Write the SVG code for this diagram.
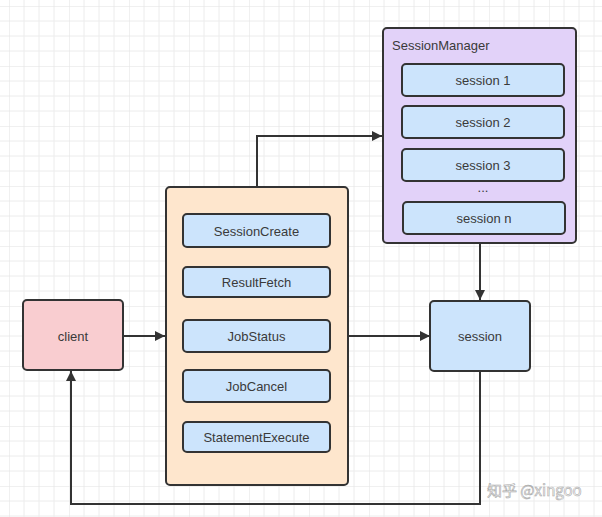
<svg xmlns="http://www.w3.org/2000/svg" width="602" height="517" viewBox="0 0 602 517">
  <defs>
    <pattern id="grid" x="9" y="6" width="60" height="60" patternUnits="userSpaceOnUse">
      <path d="M15 0V60M30 0V60M45 0V60M0 15H60M0 30H60M0 45H60" stroke="#ececec" stroke-width="1" fill="none"/>
      <path d="M0 0V60M0 0H60" stroke="#e2e2e2" stroke-width="1" fill="none"/>
    </pattern>
    <marker id="arrow" viewBox="0 0 10 10" refX="10" refY="5" markerWidth="6" markerHeight="5" markerUnits="strokeWidth" orient="auto">
      <path d="M0 0L10 5L0 10Z" fill="#333333"/>
    </marker>
    <style>
      .box { stroke: #333333; stroke-width: 2; }
      .blue { fill: #cce4fc; }
      .orange { fill: #fee6cd; }
      .pink { fill: #f9cdd0; }
      .purple { fill: #e2d2f9; }
      .lbl { font-family: "Liberation Sans", Arial, sans-serif; font-size: 13px; fill: #3a3a3a; text-anchor: middle; dominant-baseline: central; }
      .conn { fill: none; stroke: #333333; stroke-width: 2; marker-end: url(#arrow); }
    </style>
  </defs>
  <rect width="602" height="517" fill="#ffffff"/>
  <rect width="602" height="517" fill="url(#grid)"/>

  <g id="connectors">
    <path class="conn" d="M123 336H165"/>
    <path class="conn" d="M257 186V136H382"/>
    <path class="conn" d="M480 243V300"/>
    <path class="conn" d="M348 336H430"/>
    <path class="conn" d="M480 371V504H71V371"/>
  </g>

  <g id="client">
    <rect class="box pink" x="23" y="300" width="100" height="70" rx="4"/>
    <text class="lbl" x="73" y="336">client</text>
  </g>

  <g id="api">
    <rect class="box orange" x="166" y="187" width="182" height="298" rx="4"/>
    <g id="SessionCreate">
      <rect class="box blue" x="183" y="214" width="147" height="33" rx="4"/>
      <text class="lbl" x="256.5" y="231">SessionCreate</text>
    </g>
    <g id="ResultFetch">
      <rect class="box blue" x="183" y="267" width="147" height="30" rx="4"/>
      <text class="lbl" x="256.5" y="282">ResultFetch</text>
    </g>
    <g id="JobStatus">
      <rect class="box blue" x="183" y="320" width="147" height="32" rx="4"/>
      <text class="lbl" x="256.5" y="336">JobStatus</text>
    </g>
    <g id="JobCancel">
      <rect class="box blue" x="183" y="370" width="147" height="32" rx="4"/>
      <text class="lbl" x="256.5" y="386">JobCancel</text>
    </g>
    <g id="StatementExecute">
      <rect class="box blue" x="183" y="422" width="147" height="30" rx="4"/>
      <text class="lbl" x="256.5" y="437">StatementExecute</text>
    </g>
  </g>

  <g id="SessionManager">
    <rect class="box purple" x="383" y="28" width="193" height="215" rx="4"/>
    <text class="lbl" x="392" y="45" style="text-anchor:start">SessionManager</text>
    <g id="session1">
      <rect class="box blue" x="402" y="64" width="162" height="32" rx="4"/>
      <text class="lbl" x="483" y="80">session 1</text>
    </g>
    <g id="session2">
      <rect class="box blue" x="402" y="106" width="162" height="32" rx="4"/>
      <text class="lbl" x="483" y="122">session 2</text>
    </g>
    <g id="session3">
      <rect class="box blue" x="402" y="149" width="162" height="32" rx="4"/>
      <text class="lbl" x="483" y="165">session 3</text>
    </g>
    <text class="lbl" x="483" y="187">...</text>
    <g id="sessionn">
      <rect class="box blue" x="403" y="202" width="162" height="32" rx="4"/>
      <text class="lbl" x="484" y="218">session n</text>
    </g>
  </g>

  <g id="session">
    <rect class="box blue" x="430" y="301" width="100" height="70" rx="4"/>
    <text class="lbl" x="480" y="336">session</text>
  </g>

  <text x="487" y="496" font-family="'Noto Sans CJK SC', 'Liberation Sans', sans-serif" font-size="15" fill="#ffffff" stroke="#a8a8a8" stroke-width="0.6">知乎 @xingoo</text>
</svg>
